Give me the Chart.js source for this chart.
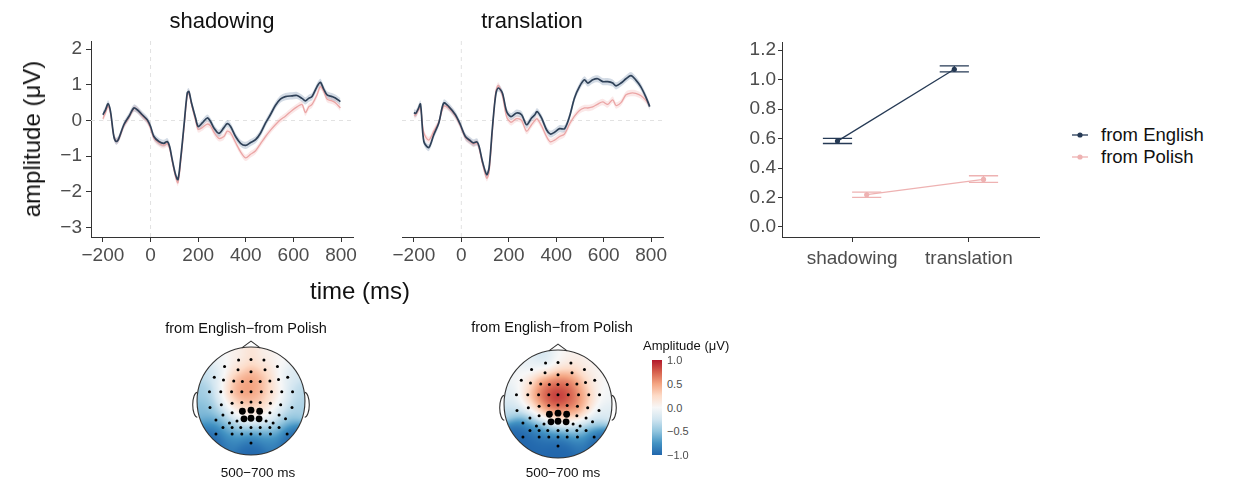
<!DOCTYPE html>
<html lang="en">
<head>
<meta charset="UTF-8">
<title>ERP amplitude: from English vs from Polish</title>
<script src="https://cdn.jsdelivr.net/npm/chart.js"></script>
<style>
  body { margin: 0; background: #fff; font-family: 'Liberation Sans', Arial, sans-serif; }
  #fig { position: relative; width: 1238px; height: 485px; overflow: hidden; }
  canvas { position: absolute; }
  .txt { position: absolute; white-space: nowrap; transform: translate(-50%, -50%); line-height: 1; color: #111; }
  .lab { position: absolute; white-space: nowrap; transform: translateY(-50%); line-height: 1; }
</style>
</head>
<body>
<div id="fig">
  <!-- ERP waveforms -->
  <canvas id="erpShadow" width="375" height="300" style="left:0;top:0"></canvas>
  <canvas id="erpTrans" width="300" height="300" style="left:375px;top:0"></canvas>
  <div class="txt" style="left:222px;top:21px;font-size:22px">shadowing</div>
  <div class="txt" style="left:532px;top:21px;font-size:22px">translation</div>
  <div class="txt" style="left:32px;top:139px;font-size:24px;transform:translate(-50%,-50%) rotate(-90deg)">amplitude (μV)</div>
  <div class="txt" style="left:360px;top:291px;font-size:24px">time (ms)</div>

  <!-- mean amplitude -->
  <canvas id="means" width="370" height="300" style="left:690px;top:0"></canvas>
  <div id="legend"></div>

  <!-- topographies -->
  <canvas id="topoShadow" width="150" height="150" style="left:176px;top:326px"></canvas>
  <canvas id="topoTrans" width="150" height="150" style="left:483px;top:329px"></canvas>
  <div class="txt" style="left:246px;top:328px;font-size:14.5px">from English−from Polish</div>
  <div class="txt" style="left:552px;top:327px;font-size:14.5px">from English−from Polish</div>
  <div class="txt" style="left:258px;top:473px;font-size:13.5px">500−700 ms</div>
  <div class="txt" style="left:563px;top:473px;font-size:13.5px">500−700 ms</div>
  <div id="colorbar"></div>
</div>

<script>
// ---- ERP data (µV) ----
const shadowTimes = [-200, -189, -178, -168, -154, -144, -133, -112, -91, -70, -56, -35, -14, 0, 14, 35, 56, 70, 80, 91,
  105, 115, 126, 140, 154, 161, 172, 189, 200, 217, 238, 252, 266, 287, 308, 322, 336, 357, 378, 399,
  420, 441, 462, 483, 503, 524, 545, 566, 594, 615, 636, 650, 664, 678, 699, 713, 727, 741, 762, 776, 797];
const shadowEnglish = [0.16, 0.3, 0.47, 0.25, -0.45, -0.59, -0.5, -0.12, 0.11, 0.35, 0.3, 0.16, 0.02, -0.17, -0.45, -0.59, -0.64, -0.59, -0.73, -1.1,
  -1.52, -1.66, -1.1, -0.17, 0.77, 0.81, 0.49, 0.07, -0.17, -0.07, 0.07, -0.03, -0.21, -0.36, -0.2, -0.09, -0.17, -0.45, -0.64, -0.7,
  -0.62, -0.54, -0.35, -0.07, 0.16, 0.42, 0.6, 0.67, 0.69, 0.7, 0.62, 0.55, 0.62, 0.67, 0.95, 1.07, 0.88, 0.72, 0.67, 0.63, 0.53];
const shadowPolish = [0.05, 0.22, 0.4, 0.2, -0.45, -0.58, -0.52, -0.15, 0.08, 0.33, 0.3, 0.13, -0.02, -0.22, -0.5, -0.64, -0.7, -0.65, -0.78, -1.15,
  -1.58, -1.75, -1.2, -0.25, 0.7, 0.78, 0.45, 0.0, -0.25, -0.2, -0.1, -0.15, -0.33, -0.5, -0.45, -0.3, -0.35, -0.62, -0.88, -1.05,
  -0.95, -0.85, -0.65, -0.45, -0.28, -0.12, 0.02, 0.12, 0.28, 0.38, 0.45, 0.22, 0.38, 0.45, 0.72, 0.95, 0.82, 0.6, 0.55, 0.5, 0.35];

const transTimes = [-200, -192, -182, -172, -158, -137, -116, -95, -74, -53, -25, -4, 17, 38, 51, 66, 75, 89, 107, 117,
  131, 145, 156, 173, 191, 209, 233, 254, 275, 296, 310, 319, 338, 359, 375, 393, 414, 435, 456, 477,
  498, 519, 533, 554, 575, 596, 617, 638, 652, 673, 694, 715, 735, 756, 777, 794];
const transEnglish = [0.22, 0.2, 0.32, 0.46, -0.59, -0.76, -0.4, -0.07, 0.49, 0.39, 0.16, -0.12, -0.45, -0.57, -0.63, -0.6, -0.73, -1.15, -1.52, -1.33,
  -0.21, 0.72, 0.91, 0.77, 0.25, 0.11, 0.21, 0.16, -0.12, 0.07, 0.16, 0.25, 0.07, -0.26, -0.38, -0.33, -0.23, -0.23, 0.11, 0.63,
  0.95, 1.14, 1.05, 1.14, 1.17, 1.09, 1.09, 1.05, 0.97, 1.05, 1.17, 1.26, 1.14, 0.95, 0.67, 0.39];
const transPolish = [0.15, 0.15, 0.28, 0.35, -0.35, -0.55, -0.3, -0.05, 0.4, 0.35, 0.12, -0.15, -0.48, -0.6, -0.66, -0.63, -0.78, -1.2, -1.62, -1.45,
  -0.3, 0.8, 0.98, 0.7, 0.1, -0.05, 0.05, 0.0, -0.3, -0.12, 0.0, 0.05, -0.15, -0.45, -0.6, -0.55, -0.45, -0.38, -0.1, 0.12,
  0.28, 0.35, 0.35, 0.38, 0.46, 0.52, 0.45, 0.58, 0.42, 0.5, 0.72, 0.77, 0.76, 0.7, 0.57, 0.42];

const englishSE = 0.1;    // ribbon half-width
const polishSE = 0.09;
const erpXTicks = [-200, 0, 200, 400, 600, 800];
const erpYTicks = [-3, -2, -1, 0, 1, 2];

// ---- mean amplitude 500-700 ms ----
const tasks = ['shadowing', 'translation'];
const meanEnglish = [0.583, 1.071];
const lowEnglish = [0.567, 1.053];
const highEnglish = [0.601, 1.094];
const meanPolish = [0.219, 0.323];
const lowPolish = [0.201, 0.303];
const highPolish = [0.237, 0.348];
const meanYTicks = [0, 0.2, 0.4, 0.6, 0.8, 1.0, 1.2];
const groups = ['from English', 'from Polish'];

// ---- topographies (electrode positions in head units, difference amplitudes) ----
const elecX = [-0.23, 0, 0.24,
  -0.49, -0.24, 0, 0.26, 0.49,
  -0.68, -0.51, -0.32, -0.16, 0, 0.17, 0.35, 0.51, 0.68,
  -0.77, -0.56, -0.36, -0.17, 0, 0.19, 0.38, 0.57, 0.77,
  -0.76, -0.55, -0.35, -0.17, 0, 0.17, 0.36, 0.55, 0.76,
  -0.52, -0.35, -0.16, 0, 0.16, 0.35, 0.52,
  -0.65, -0.40, -0.26, -0.13, 0, 0.15, 0.28, 0.41, 0.64,
  -0.52, -0.35, -0.19, 0, 0.17, 0.35, 0.52,
  -0.65, -0.35, -0.17, 0, 0.17, 0.36, 0.67,
  0];
const elecY = [0.76, 0.77, 0.76,
  0.64, 0.58, 0.54, 0.58, 0.64,
  0.44, 0.39, 0.37, 0.36, 0.36, 0.36, 0.37, 0.40, 0.44,
  0.17, 0.17, 0.17, 0.17, 0.17, 0.17, 0.17, 0.17, 0.17,
  -0.12, -0.07, -0.04, -0.03, -0.02, -0.03, -0.04, -0.07, -0.12,
  -0.26, -0.22, -0.19, -0.17, -0.19, -0.22, -0.26,
  -0.35, -0.41, -0.37, -0.33, -0.32, -0.33, -0.37, -0.41, -0.33,
  -0.49, -0.49, -0.49, -0.49, -0.49, -0.49, -0.49,
  -0.61, -0.61, -0.61, -0.61, -0.61, -0.61, -0.61,
  -0.78];
const elecCluster = [0, 0, 0,
  0, 0, 0, 0, 0,
  0, 0, 0, 0, 0, 0, 0, 0, 0,
  0, 0, 0, 0, 0, 0, 0, 0, 0,
  0, 0, 0, 0, 0, 0, 0, 0, 0,
  0, 0, 1, 1, 1, 0, 0,
  0, 0, 0, 1, 1, 1, 0, 0, 0,
  0, 0, 0, 0, 0, 0, 0,
  0, 0, 0, 0, 0, 0, 0,
  0];
const topoShadowing = [0.05, 0.2, 0.05,
  -0.05, 0.2, 0.4, 0.25, 0.0,
  -0.3, 0.0, 0.35, 0.5, 0.55, 0.45, 0.25, 0.0, -0.2,
  -0.45, -0.1, 0.4, 0.55, 0.55, 0.4, 0.2, 0.0, -0.35,
  -0.55, -0.2, 0.2, 0.4, 0.45, 0.35, 0.15, -0.1, -0.4,
  -0.4, 0.0, 0.2, 0.25, 0.2, 0.05, -0.2,
  -0.7, -0.4, -0.1, 0.0, 0.05, 0.0, -0.05, -0.2, -0.6,
  -0.8, -0.6, -0.4, -0.35, -0.4, -0.5, -0.7,
  -1.0, -0.9, -0.85, -0.85, -0.85, -0.9, -1.0,
  -1.0];
const topoTranslation = [-0.25, 0.0, 0.05,
  -0.1, 0.15, 0.4, 0.4, 0.05,
  -0.05, 0.2, 0.55, 0.7, 0.75, 0.7, 0.55, 0.25, 0.0,
  -0.15, 0.25, 0.65, 0.85, 1.0, 0.85, 0.6, 0.3, -0.05,
  -0.3, 0.05, 0.45, 0.75, 0.9, 0.7, 0.6, 0.25, -0.15,
  -0.35, 0.1, 0.45, 0.55, 0.5, 0.55, 0.05,
  -0.95, -0.7, -0.25, 0.05, 0.15, 0.15, 0.0, -0.15, -0.45,
  -1.0, -0.95, -0.75, -0.55, -0.55, -0.55, -0.85,
  -1.0, -1.0, -1.0, -1.0, -1.0, -0.95, -1.0,
  -1.0];
const colorTicks = [1.0, 0.5, 0.0, -0.5, -1.0];

// ---- styling ----
const FONT = "'Liberation Sans', Arial, sans-serif";
const engLine = '#2f4158';
const polLine = '#eba5a5';
const engBand = 'rgba(80, 110, 150, 0.25)';
const polBand = 'rgba(235, 150, 150, 0.22)';
const tickCol = '#4d4d4d';
const axisCol = '#333';

const minus = v => (v < 0 ? '\u2212' + Math.abs(v) : String(v));

// zero reference lines on the ERP panels
const zeroLines = {
  id: 'zeroLines',
  beforeDatasetsDraw(chart) {
    const { ctx, chartArea: a, scales: { x, y } } = chart;
    const x0 = x.getPixelForValue(0), y0 = y.getPixelForValue(0);
    ctx.save();
    ctx.strokeStyle = '#e2e2e2';
    ctx.lineWidth = 1;
    ctx.setLineDash([4, 4]);
    ctx.beginPath();
    ctx.moveTo(a.left, y0); ctx.lineTo(a.right, y0);
    ctx.moveTo(x0, a.top); ctx.lineTo(x0, a.bottom);
    ctx.stroke();
    ctx.restore();
  }
};

function band(times, vals, d) {
  return times.map((t, i) => ({ x: t, y: vals[i] + d }));
}

function erpChart(id, times, eng, pol, showY, padLeft, padRight) {
  return new Chart(document.getElementById(id), {
    type: 'line',
    data: {
      datasets: [
        { data: band(times, eng, 0), borderColor: engLine, borderWidth: 1.7, pointRadius: 0, tension: 0.3, order: 0 },
        { data: band(times, pol, 0), borderColor: polLine, borderWidth: 1.3, pointRadius: 0, tension: 0.3, order: 1 },
        { data: band(times, eng, englishSE), borderWidth: 0, pointRadius: 0, tension: 0.3, fill: false, order: 2 },
        { data: band(times, eng, -englishSE), borderWidth: 0, pointRadius: 0, tension: 0.3, fill: '-1', backgroundColor: engBand, order: 2 },
        { data: band(times, pol, polishSE), borderWidth: 0, pointRadius: 0, tension: 0.3, fill: false, order: 3 },
        { data: band(times, pol, -polishSE), borderWidth: 0, pointRadius: 0, tension: 0.3, fill: '-1', backgroundColor: polBand, order: 3 }
      ]
    },
    options: {
      responsive: false,
      animation: false,
      layout: { padding: { top: 41, left: padLeft, right: padRight, bottom: 0 } },
      plugins: { legend: { display: false }, tooltip: { enabled: false } },
      scales: {
        x: {
          type: 'linear', min: -250, max: 850,
          afterBuildTicks: s => { s.ticks = erpXTicks.map(v => ({ value: v })); },
          afterFit: s => { s.height = 63; },
          ticks: { font: { size: 19, family: FONT }, color: tickCol, padding: 2, maxRotation: 0, autoSkip: false, callback: v => minus(v) },
          grid: { drawOnChartArea: false, tickLength: 5, color: axisCol },
          border: { color: axisCol, width: 1 }
        },
        y: {
          display: showY, min: -3.27, max: 2.23,
          afterBuildTicks: s => { s.ticks = erpYTicks.map(v => ({ value: v })); },
          afterFit: s => { s.width = showY ? 91 : 0; },
          ticks: { font: { size: 19, family: FONT }, color: tickCol, padding: 4, callback: v => minus(v) },
          grid: { drawOnChartArea: false, tickLength: 5, color: axisCol },
          border: { color: axisCol, width: 1 }
        }
      }
    },
    plugins: [zeroLines]
  });
}

erpChart('erpShadow', shadowTimes, shadowEnglish, shadowPolish, true, 0, 22);
erpChart('erpTrans', transTimes, transEnglish, transPolish, false, 27, 12);

// ---- mean amplitude chart with error bars ----
const DODGE = 0.125, HALF = 0.125;
const meanSeries = [
  { mean: meanEnglish, low: lowEnglish, high: highEnglish, off: -DODGE, color: '#263a55' },
  { mean: meanPolish, low: lowPolish, high: highPolish, off: DODGE, color: '#eeb2b2' }
];

const errorBars = {
  id: 'errorBars',
  beforeDatasetsDraw(chart) {
    const { ctx, scales: { x, y } } = chart;
    ctx.save();
    ctx.lineWidth = 1.3;
    meanSeries.forEach(s => {
      ctx.strokeStyle = s.color;
      s.mean.forEach((m, i) => {
        const c = i + 1 + s.off;
        const xl = x.getPixelForValue(c - HALF), xr = x.getPixelForValue(c + HALF), xc = x.getPixelForValue(c);
        const yl = y.getPixelForValue(s.low[i]), yh = y.getPixelForValue(s.high[i]);
        ctx.beginPath();
        ctx.moveTo(xl, yh); ctx.lineTo(xr, yh);
        ctx.moveTo(xl, yl); ctx.lineTo(xr, yl);
        ctx.moveTo(xc, yh); ctx.lineTo(xc, yl);
        ctx.stroke();
      });
    });
    ctx.restore();
  }
};

new Chart(document.getElementById('means'), {
  type: 'line',
  data: {
    datasets: meanSeries.map((s, k) => ({
      label: groups[k],
      data: s.mean.map((m, i) => ({ x: i + 1 + s.off, y: m })),
      borderColor: s.color, backgroundColor: s.color, borderWidth: 1.3,
      pointRadius: 2.6, pointBorderWidth: 0, showLine: true, tension: 0
    }))
  },
  options: {
    responsive: false,
    animation: false,
    layout: { padding: { top: 42, left: 0, right: 21, bottom: 0 } },
    plugins: { legend: { display: false }, tooltip: { enabled: false } },
    scales: {
      x: {
        type: 'linear', min: 0.4, max: 2.6,
        afterBuildTicks: s => { s.ticks = tasks.map((t, i) => ({ value: i + 1 })); },
        afterFit: s => { s.height = 63; },
        ticks: { font: { size: 19, family: FONT }, color: tickCol, padding: 5, maxRotation: 0, autoSkip: false, callback: (v, i) => tasks[i] },
        grid: { drawOnChartArea: false, tickLength: 5, color: axisCol },
        border: { color: axisCol, width: 1 }
      },
      y: {
        min: -0.068, max: 1.256,
        afterBuildTicks: s => { s.ticks = meanYTicks.map(v => ({ value: v })); },
        afterFit: s => { s.width = 92; },
        ticks: { font: { size: 19, family: FONT }, color: tickCol, padding: 2, callback: v => v.toFixed(1) },
        grid: { drawOnChartArea: false, tickLength: 4, color: axisCol },
        border: { color: axisCol, width: 1 }
      }
    }
  },
  plugins: [errorBars]
});

// HTML legend for the mean chart
(function () {
  const box = document.getElementById('legend');
  meanSeries.forEach((s, k) => {
    const yc = 135 + k * 22;
    box.insertAdjacentHTML('beforeend',
      '<svg style="position:absolute;left:1071px;top:' + (yc - 5) + 'px" width="18" height="10">' +
      '<line x1="1" y1="5" x2="17" y2="5" stroke="' + s.color + '" stroke-width="1.3"/>' +
      '<circle cx="9" cy="5" r="2.6" fill="' + s.color + '"/></svg>' +
      '<div class="lab" style="left:1101px;top:' + yc + 'px;font-size:18.5px;color:#111">' + groups[k] + '</div>');
  });
})();

// ---- topographic maps ----
const RDBU = [[-1, [33, 102, 172]], [-0.75, [67, 147, 195]], [-0.5, [146, 197, 222]], [-0.25, [209, 229, 240]],
  [0, [247, 247, 247]], [0.25, [253, 219, 199]], [0.5, [244, 165, 130]], [0.75, [214, 96, 77]], [1, [178, 24, 43]]];

function rdbu(v) {
  v = Math.max(-1, Math.min(1, v));
  for (let i = 1; i < RDBU.length; i++) {
    if (v <= RDBU[i][0]) {
      const [v0, c0] = RDBU[i - 1], [v1, c1] = RDBU[i];
      const f = (v - v0) / (v1 - v0);
      return [0, 1, 2].map(j => Math.round(c0[j] + f * (c1[j] - c0[j])));
    }
  }
  return RDBU[RDBU.length - 1][1];
}

const SIGMA = 0.13;
const topoField = {
  id: 'topoField',
  beforeDatasetsDraw(chart, args, opts) {
    const { ctx, chartArea: a, scales: { x, y } } = chart;
    const vals = opts.values;
    const w = Math.round(a.right - a.left), h = Math.round(a.bottom - a.top);
    const img = ctx.createImageData(w, h);
    for (let j = 0; j < h; j++) {
      const hy = y.getValueForPixel(a.top + j + 0.5);
      for (let i = 0; i < w; i++) {
        const hx = x.getValueForPixel(a.left + i + 0.5);
        if (hx * hx + hy * hy > 1) continue;
        let sw = 0, sv = 0;
        for (let k = 0; k < elecX.length; k++) {
          const dx = hx - elecX[k], dy = hy - elecY[k];
          const wt = Math.exp(-(dx * dx + dy * dy) / (2 * SIGMA * SIGMA)) + 1e-12;
          sw += wt; sv += wt * vals[k];
        }
        const c = rdbu(sv / sw), p = (j * w + i) * 4;
        img.data[p] = c[0]; img.data[p + 1] = c[1]; img.data[p + 2] = c[2]; img.data[p + 3] = 255;
      }
    }
    ctx.putImageData(img, a.left, a.top);

    // head outline, nose and ears
    const cx = x.getPixelForValue(0), cy = y.getPixelForValue(0);
    const r = x.getPixelForValue(1) - cx;
    ctx.save();
    ctx.strokeStyle = '#333';
    ctx.lineWidth = 1.1;
    ctx.beginPath();
    ctx.arc(cx, cy, r, 0, Math.PI * 2);
    ctx.stroke();
    ctx.beginPath();
    ctx.moveTo(x.getPixelForValue(-0.17), y.getPixelForValue(0.985));
    ctx.lineTo(cx, y.getPixelForValue(1.11));
    ctx.lineTo(x.getPixelForValue(0.17), y.getPixelForValue(0.985));
    ctx.stroke();
    [-1, 1].forEach(sd => {
      ctx.beginPath();
      ctx.ellipse(x.getPixelForValue(sd * 0.995), y.getPixelForValue(-0.07), r * 0.085, r * 0.23, 0,
        sd < 0 ? Math.PI / 2 : -Math.PI / 2, sd < 0 ? Math.PI * 1.5 : Math.PI / 2);
      ctx.stroke();
    });
    ctx.restore();
  }
};

const HEAD_R = 57, TOPO_SIZE = 150;
function topoChart(id, vals) {
  const lim = TOPO_SIZE / 2 / HEAD_R;
  return new Chart(document.getElementById(id), {
    type: 'scatter',
    data: {
      datasets: [{
        data: elecX.map((ex, k) => ({ x: ex, y: elecY[k] })),
        pointRadius: elecCluster.map(c => (c ? 3.4 : 1.5)),
        backgroundColor: '#000', borderWidth: 0
      }]
    },
    options: {
      responsive: false,
      animation: false,
      layout: { padding: 0 },
      plugins: { legend: { display: false }, tooltip: { enabled: false }, topoField: { values: vals } },
      scales: {
        x: { display: false, min: -lim, max: lim },
        y: { display: false, min: -lim, max: lim }
      }
    },
    plugins: [topoField]
  });
}

topoChart('topoShadow', topoShadowing);
topoChart('topoTrans', topoTranslation);

// colour bar legend
(function () {
  const cb = document.getElementById('colorbar');
  const stops = RDBU.slice().reverse().map(([v, c]) => 'rgb(' + c.join(',') + ') ' + ((1 - v) / 2 * 100) + '%');
  const top = 360, hgt = 95;
  cb.insertAdjacentHTML('beforeend',
    '<div class="lab" style="left:643px;top:345px;font-size:13px;color:#111">Amplitude (μV)</div>' +
    '<div style="position:absolute;left:652px;top:' + top + 'px;width:10px;height:' + hgt + 'px;background:linear-gradient(to bottom,' + stops.join(',') + ')"></div>');
  colorTicks.forEach(v => {
    const yy = top + (1 - v) / 2 * hgt;
    const label = (v < 0 ? '\u2212' : '') + Math.abs(v).toFixed(1);
    cb.insertAdjacentHTML('beforeend',
      '<div class="lab" style="left:667px;top:' + yy + 'px;font-size:11px;color:' + tickCol + '">' + label + '</div>');
  });
})();
</script>
</body>
</html>
